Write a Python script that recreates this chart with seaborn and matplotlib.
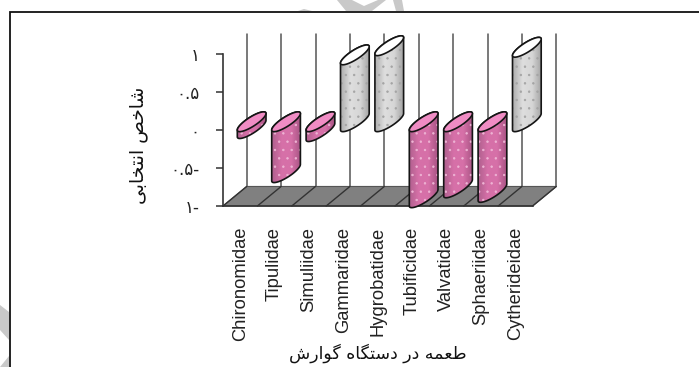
import unicodedata

import matplotlib
matplotlib.use("Agg")
import matplotlib.pyplot as plt
import numpy as np
import seaborn as sns
from matplotlib.patches import PathPatch, Polygon
from matplotlib.path import Path
from matplotlib.colors import LinearSegmentedColormap

families = ["Chironomidae", "Tipulidae", "Simuliidae", "Gammaridae", "Hygrobatidae",
            "Tubificidae", "Valvatidae", "Sphaeriidae", "Cytherideidae"]
selectivity = [-0.09, -0.67, -0.13, 0.88, 1.0, -1.0, -0.87, -0.93, 0.98]
y_ticks = [-1, -0.5, 0, 0.5, 1]
y_tick_labels = ["۱-", "۰.۵-", "۰", "۰.۵", "۱"]
y_title = "شاخص انتخابی"
x_title = "طعمه در دستگاه گوارش"

PINK = "#d0609c"
GREY = "#d4d4d4"

# Oblique depth of the chart box, in category and value units.
DEPTH_X = 0.689
DEPTH_Y = 0.257
RISE = 0.217
BAR_W = 0.834
BAR_SHIFT = -0.084
SEMI_THICK = 0.072

RIGHT_JOINING = set("اآدذرزژو")


def shape_rtl(text):
    """Return text as joined presentation forms in left-to-right drawing order."""
    out = []
    for i, ch in enumerate(text):
        if ch == " ":
            out.append(ch)
            continue
        prev = text[i - 1] if i > 0 else " "
        nxt = text[i + 1] if i + 1 < len(text) else " "
        joins_prev = prev != " " and prev not in RIGHT_JOINING
        joins_next = nxt != " " and ch not in RIGHT_JOINING
        form = {(False, False): "ISOLATED", (True, False): "FINAL",
                (False, True): "INITIAL", (True, True): "MEDIAL"}[(joins_prev, joins_next)]
        out.append(unicodedata.lookup(f"{unicodedata.name(ch)} {form} FORM"))
    return "".join(reversed(out))


def arc(xc, yc, start, stop, n=40):
    """Points on a sheared cylinder cap centred on (xc, yc)."""
    t = np.linspace(start, stop, n)
    return np.column_stack([xc + BAR_W / 2 * np.cos(t),
                            yc + RISE / 2 * np.cos(t) + SEMI_THICK * np.sin(t)])


sns.set_theme(style="white")
plt.rcParams["font.family"] = ["Liberation Sans", "DejaVu Sans"]
plt.rcParams["hatch.linewidth"] = 0.5

W, H = 699, 367
fig = plt.figure(figsize=(W / 100, H / 100), dpi=100, facecolor="white")

# Page frame and the pale marks around it, in pixel coordinates.
page = fig.add_axes([0, 0, 1, 1], zorder=0)
page.set_xlim(0, W)
page.set_ylim(H, 0)
page.axis("off")
for pts in ([(337, 0), (352, 0), (364, 6), (378, 0), (386, 0), (372, 11), (346, 11)],
            ((393, 0), (402, 0), (404, 11), (396, 11)),
            ((298, 11), (304, 9), (312, 11)),
            ((0, 305), (9, 312), (9, 340), (0, 330)),
            ((9, 356), (9, 367), (0, 367))):
    page.add_patch(Polygon(pts, closed=True, fc="#c9c9c9", ec="none"))
page.plot([9.5, 9.5, W], [H, 11.5, 11.5], color="#111111", lw=1.3, solid_joinstyle="miter")

ax = fig.add_axes([223 / W, 1 - 206 / H, 309.6 / W, 152 / H], zorder=1)
ax.patch.set_alpha(0)

colors = [PINK if v < 0 else GREY for v in selectivity]
sns.barplot(x=families, y=selectivity, hue=families, palette=colors, width=BAR_W,
            saturation=1, legend=False, ax=ax)
bars = list(ax.patches)

ax.set_xlim(-0.5, len(families) - 0.5)
ax.set_ylim(-1, 1)

# Floor and back wall.
n = len(families)
floor = [(-0.5, -1), (n - 0.5, -1), (n - 0.5 + DEPTH_X, -1 + DEPTH_Y), (-0.5 + DEPTH_X, -1 + DEPTH_Y)]
ax.add_patch(Polygon(floor, closed=True, fc="#808080", ec="#555555", lw=0.8, clip_on=False, zorder=1))
for k in range(n + 1):
    x0 = k - 0.5
    ax.plot([x0 + DEPTH_X] * 2, [-1 + DEPTH_Y, 1 + DEPTH_Y], color="#555555", lw=1.1,
            clip_on=False, zorder=0.9)
    ax.plot([x0, x0 + DEPTH_X], [-1, -1 + DEPTH_Y], color="#333333", lw=1.0, clip_on=False, zorder=1.1)

# Each bar becomes an oblique cylinder built from its own height.
pink_map = LinearSegmentedColormap.from_list("pink", ["#b0608e", "#d670a8", "#d670a8", "#a85484"])
grey_map = LinearSegmentedColormap.from_list("grey", ["#b0b0b0", "#dedede", "#d6d6d6", "#a2a2a2"])
ramp = np.linspace(0, 1, 64).reshape(1, -1)

for i, bar in enumerate(bars):
    v = bar.get_y() + bar.get_height() if bar.get_y() == 0 else bar.get_y()
    low, high = min(v, 0.0), max(v, 0.0)
    xl = i + BAR_SHIFT
    xc = xl + BAR_W / 2
    z = 3 + i * 0.1
    bottom = arc(xc, low + RISE / 2, np.pi, 2 * np.pi)
    top_upper = arc(xc, high + RISE / 2, 0, np.pi)
    top_lower = arc(xc, high + RISE / 2, np.pi, 2 * np.pi)
    body = np.vstack([bottom, top_upper])
    outline = Path(np.vstack([body, body[:1]]), closed=True)

    body_patch = PathPatch(outline, fc="none", ec="#151515", lw=1.2, clip_on=False, zorder=z + 0.03)
    ax.add_patch(body_patch)

    bar.set_x(xl)
    bar.set_width(BAR_W)
    bar.set_zorder(z)
    bar.set_clip_path(body_patch)
    bar.set_clip_box(fig.bbox)

    img = ax.imshow(ramp, extent=[xl, xl + BAR_W, low - 0.1, high + RISE + 0.1], aspect="auto",
                    cmap=pink_map if v < 0 else grey_map, zorder=z + 0.01, interpolation="bilinear")
    img.set_clip_path(body_patch)
    img.set_clip_box(fig.bbox)

    dots = PathPatch(outline, fc="none", ec="#eeb4d4" if v < 0 else "#a4a4a4", lw=0, hatch="..",
                     zorder=z + 0.02)
    ax.add_patch(dots)
    dots.set_clip_path(body_patch)
    dots.set_clip_box(fig.bbox)

    cap = np.vstack([top_upper, top_lower[1:]])
    ax.add_patch(Polygon(cap, closed=True, fc="#f08cc4" if v < 0 else "#ffffff", ec="#151515", lw=1.2,
                         clip_on=False, zorder=z + 0.04))

ax.set_xlim(-0.5, n - 0.5)
ax.set_ylim(-1, 1)

# Axes, ticks and text.
for side in ("top", "right"):
    ax.spines[side].set_visible(False)
for side in ("left", "bottom"):
    ax.spines[side].set_color("#333333")
    ax.spines[side].set_linewidth(1.2)
    ax.spines[side].set_zorder(2)

ax.set_yticks(y_ticks)
ax.set_yticklabels(y_tick_labels, fontsize=12, family="DejaVu Sans")
ax.tick_params(axis="y", left=True, length=5, width=1.1, color="#333333", pad=12, labelcolor="#222222")
ax.set_xticks(range(n))
ax.set_xticklabels(families, rotation=90, fontsize=13.2, color="#222222")
ax.tick_params(axis="x", bottom=False, pad=9)
ax.set_xlabel(shape_rtl(x_title), fontsize=12.5, family="DejaVu Sans", color="#111111")
ax.set_ylabel(shape_rtl(y_title), fontsize=13.5, family="DejaVu Sans", color="#111111")
ax.xaxis.set_label_coords((378 - 223) / 309.6, -(353 - 206) / 152, transform=ax.transAxes)
ax.yaxis.set_label_coords((138 - 223) / 309.6, (206 - 145) / 152, transform=ax.transAxes)
ax.xaxis.label.set_verticalalignment("center")
ax.yaxis.label.set_verticalalignment("center")

fig.savefig("out.png", dpi=100, facecolor="white")
